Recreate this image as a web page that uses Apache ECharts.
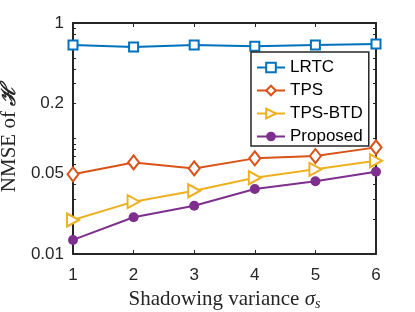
<!DOCTYPE html>
<html>
<head>
<meta charset="utf-8">
<script src="https://cdn.jsdelivr.net/npm/echarts@6/dist/echarts.min.js"></script>
<style>html,body{margin:0;padding:0;background:#fff;}#c{width:415px;height:312px;}</style>
</head>
<body>
<div id="c"></div>
<script>
const xValues = [1, 2, 3, 4, 5, 6];
const lrtc = [0.645, 0.620, 0.645, 0.629, 0.645, 0.658];
const tps = [0.0490, 0.0621, 0.0551, 0.0673, 0.0705, 0.0838];
const tpsBtd = [0.0197, 0.0284, 0.0353, 0.0457, 0.0541, 0.0642];
const proposed = [0.01324, 0.0208, 0.0262, 0.0365, 0.0426, 0.0516];
const xTicks = [1, 2, 3, 4, 5, 6];
const yTickLabels = [0.01, 0.05, 0.2, 1];
const yMinorTicks = [0.01,0.02,0.03,0.04,0.05,0.06,0.07,0.08,0.09,0.1,0.2,0.3,0.4,0.5,0.6,0.7,0.8,0.9,1];

const AX = '#262626';
const pair = arr => xValues.map((x, i) => [x, arr[i]]);
const fmt = v => String(parseFloat(Number(v).toPrecision(3)));

const chart = echarts.init(document.getElementById('c'), null, {renderer: 'canvas'});
const lineW = 2;
chart.setOption({
  animation: false,
  backgroundColor: '#fff',
  grid: {left: 73, right: 39, top: 23, bottom: 58, containLabel: false, outerBoundsMode: 'none'},
  xAxis: [{
    type: 'value', min: 1, max: 6, interval: 1, position: 'bottom',
    axisLine: {show: true, lineStyle: {color: AX, width: 2}},
    axisTick: {show: true, inside: true, length: 4, customValues: xTicks, lineStyle: {color: AX, width: 1}},
    axisLabel: {show: true, color: AX, fontFamily: 'Liberation Sans', fontSize: 17, margin: 13},
    splitLine: {show: false},
    name: 'Shadowing variance {i|σ}{s|s}',
    nameLocation: 'middle', nameGap: 34,
    nameTextStyle: {color: AX, fontFamily: 'Liberation Serif', fontSize: 21,
      rich: {i: {fontFamily: 'Liberation Serif', fontStyle: 'italic', fontSize: 21, color: AX},
             s: {fontFamily: 'Liberation Serif', fontStyle: 'italic', fontSize: 14, color: AX, verticalAlign: 'bottom', padding: [9, 0, 0, 0]}}}
  }, {
    type: 'value', min: 1, max: 6, interval: 1, position: 'top',
    axisLine: {show: true, lineStyle: {color: AX, width: 2}},
    axisTick: {show: true, inside: true, length: 4, lineStyle: {color: AX, width: 1}},
    axisLabel: {show: false}, splitLine: {show: false}
  }],
  yAxis: [{
    type: 'log', logBase: 10, min: 0.01, max: 1, position: 'left',
    axisLine: {show: true, lineStyle: {color: AX, width: 2}},
    axisTick: {show: true, inside: true, length: 3, customValues: yMinorTicks, lineStyle: {color: AX, width: 1}},
    axisLabel: {show: true, color: AX, fontFamily: 'Liberation Sans', fontSize: 17, margin: 9,
      customValues: yTickLabels, formatter: v => fmt(v)},
    splitLine: {show: false},
    name: 'NMSE of {h|ℋ}',
    nameLocation: 'middle', nameGap: 48, nameRotate: 90,
    nameTextStyle: {color: AX, fontFamily: 'Liberation Serif', fontSize: 21,
      rich: {h: {fontFamily: 'DejaVu Serif', fontWeight: 'bold', fontStyle: 'italic', fontSize: 20, color: AX}}}
  }, {
    type: 'log', logBase: 10, min: 0.01, max: 1, position: 'right',
    axisLine: {show: true, lineStyle: {color: AX, width: 2}},
    axisTick: {show: true, inside: true, length: 3, customValues: yMinorTicks, lineStyle: {color: AX, width: 1}},
    axisLabel: {show: false}, splitLine: {show: false}
  }],
  legend: {
    orient: 'vertical', left: 251, top: 52,
    backgroundColor: '#fff', borderColor: AX, borderWidth: 1.5, borderRadius: 0,
    padding: [7, 6, 1, 5], itemWidth: 28, itemHeight: 12, itemGap: 6,
    textStyle: {color: '#000', fontFamily: 'Liberation Sans', fontSize: 17},
    data: ['LRTC', 'TPS', 'TPS-BTD', 'Proposed']
  },
  series: [
    {name: 'LRTC', type: 'line', data: pair(lrtc), symbol: 'emptyRect', symbolSize: 9,
     color: '#0072BD', lineStyle: {width: lineW}, itemStyle: {borderWidth: 2}},
    {name: 'TPS', type: 'line', data: pair(tps), symbol: 'emptyDiamond', symbolSize: [11, 14],
     color: '#D95319', lineStyle: {width: lineW}, itemStyle: {borderWidth: 2}},
    {name: 'TPS-BTD', type: 'line', data: pair(tpsBtd), symbol: 'emptyTriangle', symbolSize: [13, 12], symbolRotate: -90,
     color: '#EDB120', lineStyle: {width: lineW}, itemStyle: {borderWidth: 2}},
    {name: 'Proposed', type: 'line', data: pair(proposed), symbol: 'circle', symbolSize: 10,
     color: '#7E2F8E', lineStyle: {width: lineW}}
  ]
});
</script>
</body>
</html>
